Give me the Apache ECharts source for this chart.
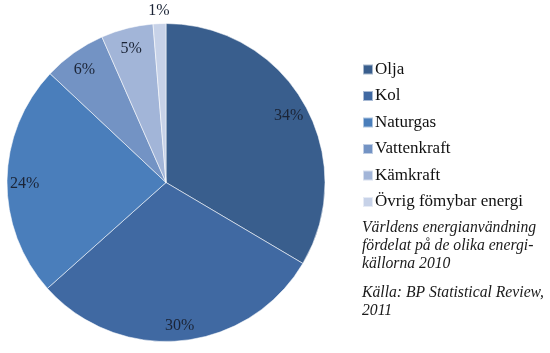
<!DOCTYPE html>
<html>
<head>
<meta charset="utf-8">
<script src="https://cdn.jsdelivr.net/npm/echarts@6/dist/echarts.min.js"></script>
<style>html,body{margin:0;padding:0;background:#fff}#c{width:550px;height:353px}</style>
</head>
<body>
<div id="c"></div>
<script>
const categories = ['Olja', 'Kol', 'Naturgas', 'Vattenkraft', 'Kämkraft', 'Övrig fömybar energi'];
const values = [33.5, 29.9, 23.6, 6.4, 5.3, 1.3];
const colors = ['#395E8D', '#4069A2', '#4A7EBB', '#7393C4', '#A2B5D8', '#C7D2E8'];
const noteLines = ['Världens energianvändning', 'fördelat på de olika energi-', 'källorna 2010'];
const sourceLines = ['Källa: BP Statistical Review,', '2011'];

const FONT = '"Liberation Serif", "DejaVu Serif", serif';
const CX = 166, CY = 182.5, R = 159;
const pct = p => Math.round(p.percent) + '%';
const data = categories.map((n, i) => ({ name: n, value: values[i], itemStyle: { color: colors[i] } }));
const noteStyle = { fontFamily: FONT, fontStyle: 'italic', fontWeight: 'normal', fontSize: 15.7, lineHeight: 18, color: '#1a1a1a' };
const pieLabel = { position: 'inside', formatter: pct, fontFamily: FONT, fontSize: 16, color: '#1b2436' };

const chart = echarts.init(document.getElementById('c'), null, { renderer: 'canvas' });
chart.setOption({
  animation: false,
  title: [
    { text: noteLines.join('\n'), left: 362, top: 219, padding: 0, textStyle: noteStyle },
    { text: sourceLines.join('\n'), left: 362, top: 284, padding: 0, textStyle: noteStyle }
  ],
  legend: {
    orient: 'vertical', left: 362, top: 61, padding: 0,
    data: categories, icon: 'rect', itemWidth: 10, itemHeight: 10, itemGap: 9.5,
    textStyle: { fontFamily: FONT, fontSize: 17, lineHeight: 17, color: '#111', padding: [0, 0, 0, -3] },
    selectedMode: false
  },
  series: [
    { type: 'pie', center: [CX, CY], radius: [0, R], startAngle: 90, clockwise: true,
      data: data, label: { show: false }, labelLine: { show: false }, silent: true,
      itemStyle: { borderColor: 'rgba(255,255,255,0.55)', borderWidth: 1 } },
    { type: 'pie', center: [CX, CY], radius: [R * 0.74, R], startAngle: 90, clockwise: true,
      data: categories.map((n, i) => ({ name: n, value: values[i], itemStyle: { color: 'transparent' },
        label: { show: i < 5 } })),
      silent: true, labelLine: { show: false }, label: pieLabel, labelLayout: { dy: 3 } },
    { type: 'pie', center: [CX, CY], radius: [R + 6, R + 20], startAngle: 90, clockwise: true,
      data: categories.map((n, i) => ({ name: n, value: values[i], itemStyle: { color: 'transparent' },
        label: { show: i === 5 } })),
      silent: true, labelLine: { show: false }, label: pieLabel, labelLayout: { dy: 3 } }
  ]
});
</script>
</body>
</html>
